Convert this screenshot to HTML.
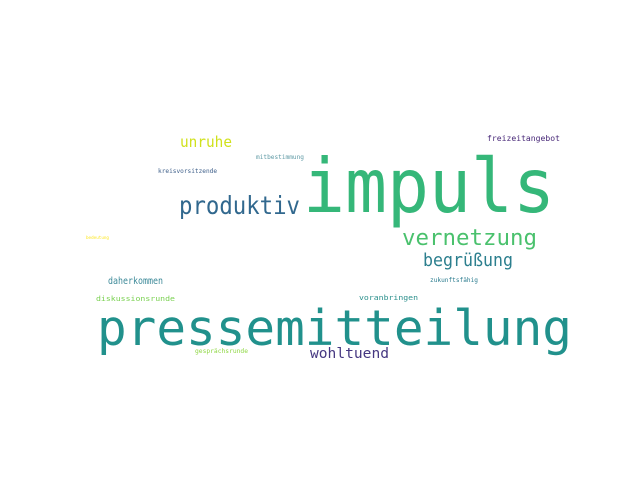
<!DOCTYPE html>
<html><head><meta charset="utf-8"><style>
html,body{margin:0;padding:0;background:#fff;width:640px;height:480px;overflow:hidden}
svg text{font-family:"DejaVu Sans Mono","Liberation Mono",monospace}
</style></head><body>
<svg width="640" height="480" id="wc"></svg>
<script>
const words=["impuls","pressemitteilung","produktiv","vernetzung","begrüßung","unruhe","wohltuend","daherkommen","freizeitangebot","mitbestimmung","kreisvorsitzende","zukunftsfähig","voranbringen","diskussionsrunde","gesprächsrunde","bedeutung"];
const sizes=[75,49,25,22,18,15,14,10,8,6,6,6,7,7,6,4];
const colors=["#35b779","#21918c","#31688e","#4ac16d","#2c7f8e","#d0e11c","#453781","#3d8a99","#482878","#5f9aa5","#3e5f8a","#2a7b8e","#2a8f8b","#7ad151","#8fd744","#fde725"];
const xs=[303,97,179,402,423,180,310,108,487,256,158,430,359,96,195,86];
const ys=[212,345,214,245,266,147,358,284,141,159,173,282,300,301,353,239];
const ws=[252,475,121,135,90,52,79,55,73,48,59,48,59,79,53,23];
const svg=document.getElementById('wc');
words.forEach((w,i)=>{
  const t=document.createElementNS('http://www.w3.org/2000/svg','text');
  t.setAttribute('x',xs[i]);t.setAttribute('y',ys[i]);
  t.setAttribute('font-size',sizes[i]);t.setAttribute('fill',colors[i]);
  t.setAttribute('textLength',ws[i]);t.setAttribute('lengthAdjust','spacingAndGlyphs');
  t.textContent=w;
  
  
  svg.appendChild(t);
});
</script>
</body></html>
